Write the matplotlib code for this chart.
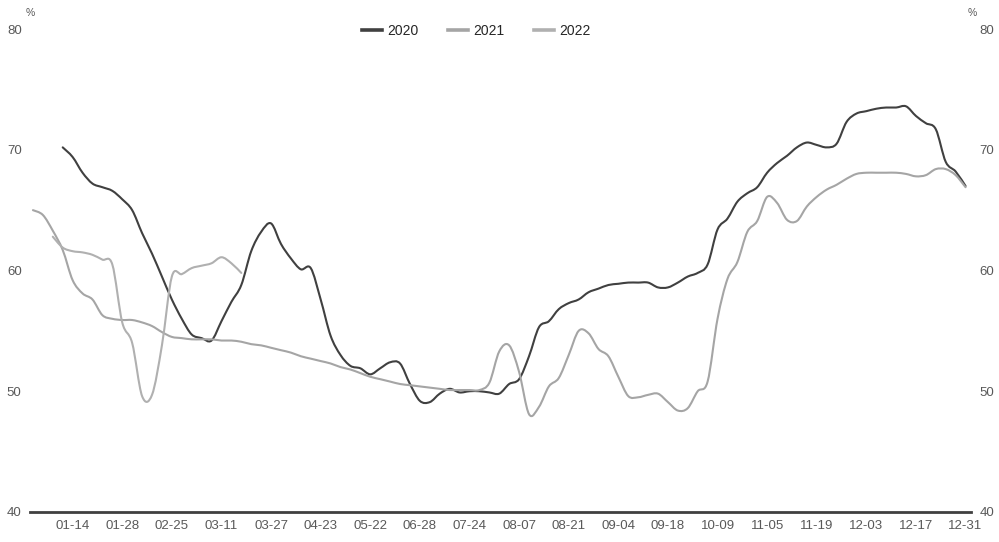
import numpy as np
import matplotlib
matplotlib.use("Agg")
import matplotlib.pyplot as plt
from matplotlib.path import Path
from matplotlib.patches import PathPatch
from matplotlib.lines import Line2D

plt.rcParams['font.family'] = ['Liberation Sans', 'DejaVu Sans']

# category axis: 95 points, a label on every 5th point starting at point 4
n_points = 95
first_label = 4
label_every = 5
tick_labels = ["01-14", "01-28", "02-25", "03-11", "03-27", "04-23", "05-22",
               "06-28", "07-24", "08-07", "08-21", "09-04", "09-18", "10-09",
               "11-05", "11-19", "12-03", "12-17", "12-31"]

y2020 = [None] * 3 + [
    70.2, 69.4, 68.1, 67.2, 66.9, 66.6, 65.9, 65.0, 63.1, 61.4,
    59.5, 57.6, 56.0, 54.7, 54.4, 54.2, 55.8, 57.4, 58.8, 61.6,
    63.2, 63.9, 62.2, 61.0, 60.1, 60.2, 57.6, 54.6, 53.0, 52.1,
    51.9, 51.4, 51.9, 52.4, 52.3, 50.6, 49.2, 49.1, 49.8, 50.2,
    49.9, 50.0, 50.0, 49.9, 49.8, 50.6, 51.0, 52.9, 55.3, 55.8,
    56.8, 57.3, 57.6, 58.2, 58.5, 58.8, 58.9, 59.0, 59.0, 59.0,
    58.6, 58.6, 59.0, 59.5, 59.8, 60.5, 63.4, 64.3, 65.7, 66.4,
    66.9, 68.1, 68.9, 69.5, 70.2, 70.6, 70.4, 70.2, 70.5, 72.3,
    73.0, 73.2, 73.4, 73.5, 73.5, 73.6, 72.8, 72.2, 71.7, 69.0,
    68.2, 67.0]

y2021 = [
    65.0, 64.6, 63.3, 61.7, 59.2, 58.1, 57.6, 56.3, 56.0, 55.9,
    55.9, 55.7, 55.4, 54.9, 54.5, 54.4, 54.3, 54.3, 54.3, 54.2,
    54.2, 54.1, 53.9, 53.8, 53.6, 53.4, 53.2, 52.9, 52.7, 52.5,
    52.3, 52.0, 51.8, 51.5, 51.2, 51.0, 50.8, 50.6, 50.5, 50.4,
    50.3, 50.2, 50.1, 50.1, 50.1, 50.1, 50.7, 53.3, 53.8, 51.6,
    48.1, 48.7, 50.4, 51.1, 53.0, 55.0, 54.8, 53.5, 52.9, 51.2,
    49.6, 49.5, 49.7, 49.8, 49.1, 48.4, 48.6, 50.0, 50.8, 56.0,
    59.3, 60.7, 63.2, 64.1, 66.1, 65.6, 64.2, 64.1, 65.3, 66.1,
    66.7, 67.1, 67.6, 68.0, 68.1, 68.1, 68.1, 68.1, 68.0, 67.8,
    67.9, 68.4, 68.4, 67.9, 66.9]

y2022 = [None] * 2 + [
    62.8, 61.9, 61.6, 61.5, 61.3, 60.9, 60.5, 55.7, 54.0, 49.6,
    49.7, 53.8, 59.5, 59.7, 60.2, 60.4, 60.6, 61.1, 60.6, 59.8] + [None] * 73

series = [("2020", y2020, "#404040"),
          ("2021", y2021, "#A5A5A5"),
          ("2022", y2022, "#B0B0B0")]


def smooth_path(xs, ys):
    # smoothed line like Excel: cubic bezier through every data point
    pts = np.column_stack([xs, ys])
    verts = [pts[0]]
    codes = [Path.MOVETO]
    n = len(pts)
    for i in range(n - 1):
        p0 = pts[max(i - 1, 0)]
        p1 = pts[i]
        p2 = pts[i + 1]
        p3 = pts[min(i + 2, n - 1)]
        verts += [p1 + (p2 - p0) / 6, p2 - (p3 - p1) / 6, p2]
        codes += [Path.CURVE4] * 3
    return Path(verts, codes)


x = np.arange(n_points)

fig = plt.figure(figsize=(9.99, 5.42), dpi=100)
ax = fig.add_axes([0.030, 0.0554, 0.942, 0.891])

handles = []
for name, vals, color in series:
    xs = [i for i, v in zip(x, vals) if v is not None]
    ys = [v for v in vals if v is not None]
    patch = PathPatch(smooth_path(np.array(xs, float), np.array(ys, float)),
                      fill=False, edgecolor=color, lw=1.5, capstyle='round',
                      joinstyle='round')
    ax.add_patch(patch)
    handles.append(Line2D([], [], color=color, lw=2.6, label=name))

ax.set_xlim(-0.3, n_points - 1 + 0.55)
ax.set_ylim(40, 80)
ax.set_yticks([40, 50, 60, 70, 80])
ax.set_xticks(x[first_label::label_every])
ax.set_xticklabels(tick_labels)

for s in ["top", "left", "right"]:
    ax.spines[s].set_visible(False)
ax.spines["bottom"].set_color("#404040")
ax.spines["bottom"].set_linewidth(2)

ax.tick_params(axis='x', length=0, pad=6, labelsize=9.5, labelcolor="#595959")
ax.tick_params(axis='y', length=0, pad=6, labelsize=9.5, labelcolor="#595959",
               labelleft=True, labelright=True)

fig.text(30 / 999, 1 - 13 / 542, "%", ha='center', va='center',
         fontsize=7.5, color="#595959")
fig.text(972 / 999, 1 - 13 / 542, "%", ha='center', va='center',
         fontsize=7.5, color="#595959")

leg = fig.legend(handles=handles, loc='center',
                 bbox_to_anchor=(476.5 / 999, 1 - 31 / 542),
                 ncol=3, frameon=False, fontsize=10, handlelength=1.45,
                 handletextpad=0.4, columnspacing=2.1, borderpad=0)
for t in leg.get_texts():
    t.set_color("#262626")

fig.savefig("out.png", dpi=100)
